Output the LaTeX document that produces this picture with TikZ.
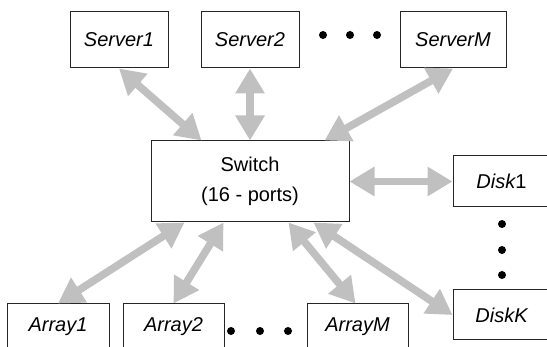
\documentclass[tikz,border=0pt]{standalone}
\usepackage{fontspec}
\setmainfont{Liberation Sans}
\usetikzlibrary{arrows.meta,calc}
\definecolor{arrgray}{HTML}{C0C0C0}
\tikzset{
  box/.style={draw=black!85, line width=0.5pt, rectangle, inner sep=0pt, font=\fontsize{10}{13}\selectfont, align=center},
  link/.style={draw=arrgray, line width=3.8pt, {Triangle[length=12.5pt,width=14pt]}-{Triangle[length=12.5pt,width=14pt]}},
  dot/.style={fill=black}
}
\begin{document}
\begin{tikzpicture}[x=0.5pt,y=-0.5pt]
\useasboundingbox (0,0) rectangle (547,347);
\clip (0,0) rectangle (547,347);
% nodes
\node[box, minimum width=49pt, minimum height=28pt] (s1) at (119,40) {\itshape Server1};
\node[box, minimum width=49pt, minimum height=28pt] (s2) at (250,40) {\itshape Server2};
\node[box, minimum width=53pt, minimum height=28pt] (sM) at (453,40) {\itshape ServerM};
\node[box, minimum width=99pt, minimum height=40.5pt] (sw) at (250,181.5) {Switch\\[2pt](16 - ports)};
\node[box, minimum width=48.5pt, minimum height=25.5pt] (d1) at (501.5,181.5) {\itshape Disk\upshape 1};
\node[box, minimum width=48.5pt, minimum height=25pt] (dK) at (501.5,315) {\itshape DiskK};
\node[box, minimum width=51pt, minimum height=23pt] (a1) at (58,327) {\itshape Array1};
\node[box, minimum width=50.5pt, minimum height=23pt] (a2) at (173.5,327) {\itshape Array2};
\node[box, minimum width=50.5pt, minimum height=23pt] (aM) at (357.5,327) {\itshape ArrayM};
% connectors
\draw[link] (s1.south) -- ($(sw.north west)+(51,0)$);
\draw[link] (s2.south) -- (sw.north);
\draw[link] (sM.south) -- ($(sw.north east)+(-25,0)$);
\draw[link] (sw.east) -- (d1.west);
\draw[link] ($(sw.south east)+(-36,0)$) -- (dK.west);
\draw[link] ($(sw.south east)+(-61,0)$) -- ($(aM.north west)+(49,0)$);
\draw[link] ($(sw.south west)+(34,0)$) -- (a1.north);
\draw[link] ($(sw.south west)+(73,0)$) -- (a2.north);
% ellipsis dots
\foreach \x in {323,350,377} \fill[dot] (\x,35) circle (2pt);
\foreach \x in {231,260,288} \fill[dot] (\x,331) circle (2pt);
\foreach \y in {224,250,275} \fill[dot] (502,\y) circle (2pt);
\end{tikzpicture}
\end{document}
